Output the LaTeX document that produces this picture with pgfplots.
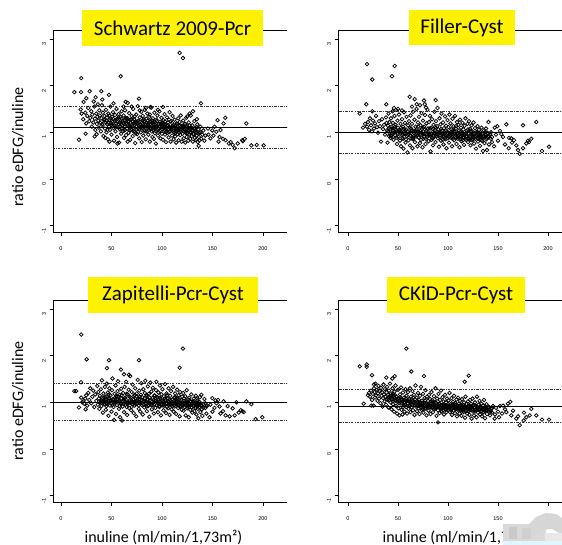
\documentclass[border=0pt]{standalone}
\usepackage{pgfplots}
\pgfplotsset{compat=1.18}
\usepackage{fontspec}
\setmainfont{Carlito}
\newfontfamily\ticfont{Liberation Sans}

% Shared look of the four ratio panels (R base-graphics style)
\pgfplotsset{
  ratiopanel/.style={
    scale only axis, anchor=south west,
    ymin=-1.14, ymax=3.19,
    axis line style={draw=none},
    clip mode=individual,
    xtick={0,50,100,150,200}, ytick={-1,0,1,2,3},
    tick align=outside, tick pos=left,
    major tick length=3.5pt,
    tick style={black, line width=0.6pt},
    /pgf/number format/assume math mode=true,
    xticklabel style={font=\ticfont\fontsize{5.5}{6}\selectfont, yshift=-7pt},
    yticklabel style={font=\ticfont\fontsize{5.5}{6}\selectfont, rotate=90, anchor=south, xshift=-5pt},
  },
  pts/.style={only marks, mark=o, mark size=1.8pt, mark options={line width=0.75pt, black}},
  meanline/.style={black, line width=0.9pt},
  limline/.style={black!80, line width=0.6pt, dash pattern=on 2.5pt off 1.2pt on 0.8pt off 1.2pt},
}
\newcommand{\panelframe}{\draw[black, line width=0.8pt] (rel axis cs:1,1) -- (rel axis cs:0,1) -- (rel axis cs:0,0) -- (rel axis cs:1,0);}

\begin{document}
\begin{tikzpicture}
\useasboundingbox (0,0) rectangle (562pt,545pt);

% ---------------- Schwartz 2009-Pcr ----------------
\begin{axis}[ratiopanel, at={(53pt,312.7pt)}, width=234pt, height=202.3pt, xmin=-7.9, xmax=223.8]
\panelframe
\addplot[meanline] coordinates {(-20,1.10) (240,1.10)};
\addplot[limline] coordinates {(-20,1.56) (240,1.56)};
\addplot[limline] coordinates {(-20,0.65) (240,0.65)};
\addplot[pts] coordinates {
(117.5,2.70)(120.8,2.59)(20.1,2.16)(59.1,2.20)(13.2,1.86)(19.8,1.86)(28.4,1.88)(39.9,1.88)(47.5,1.80)
(22.4,1.65)(25,1.73)(34.3,1.75)(32.4,1.66)(40.9,1.70)(64,1.65)(77.2,1.72)(138.6,1.62)(19.5,1.49)(20.5,1.40)
(101,1.54)(88.5,1.54)(127.4,1.40)(130.7,1.45)(125,1.34)(134.6,1.28)(155,1.26)(162.7,1.31)(161,1.19)(183.5,1.19)
(145.5,1.08)(149.8,1.04)(153.8,1.01)(157,0.90)(160.4,0.86)(166.3,0.76)(172,0.66)(175,0.76)(179.5,0.83)(182,0.86)
(188.5,0.72)(193.8,0.73)(200.7,0.72)(136.3,0.71)(137.3,0.83)(17.8,0.84)(24.4,0.97)(33.3,0.91)(35.3,0.96)
(146,0.95)(148,0.87)(151,0.93)(152,1.12)(156,0.80)(158,1.05)(163,0.83)(168,0.79)(170,0.73)(180,0.81)
(22,1.28)(24,1.42)(25,1.19)(26,1.35)(27,1.52)(28,1.24)(29,1.31)(30,1.45)(30.5,1.12)(31,1.38)(32,1.21)(33,1.55)
(33.5,1.29)(34,1.05)(35,1.40)(35.5,1.18)(36,1.33)(36.5,1.60)(37,1.25)(37.5,1.10)(38,1.47)(38.5,1.36)(39,1.20)
(39.5,1.02)(40,1.30)(40.5,1.58)(41,1.15)(41.5,1.42)(42,0.92)(42.5,1.26)
(43,1.35)(43.5,1.08)(44,1.22)(44.5,1.48)(45,1.00)(45.5,1.31)(46,1.17)(46.5,0.85)(47,1.40)(47.5,1.12)(48,1.27)
(48.5,1.05)(49,1.55)(49.5,1.20)(50,0.95)(50.5,1.33)(51,1.14)(51.5,1.43)(52,1.09)(52.5,0.82)(53,1.25)(53.5,1.37)
(54,1.02)(54.5,1.18)(55,1.50)(55.5,0.90)(56,1.29)(56.5,1.11)(57,1.39)(57.5,0.78)(58,1.21)(58.5,1.06)(59,1.33)
(59.5,0.97)(60,1.45)(60.5,1.16)(44,0.88)(48,0.80)(52,1.62)(56,0.76)
(61,1.24)(61.5,1.03)(62,1.36)(62.5,0.88)(63,1.12)(63.5,1.47)(64,1.19)(64.5,0.94)(65,1.30)(65.5,1.08)(66,1.63)
(66.5,1.22)(67,0.99)(67.5,1.41)(68,1.14)(68.5,0.84)(69,1.27)(69.5,1.05)(70,1.35)(70.5,1.17)(71,0.92)(71.5,1.50)
(72,1.10)(72.5,1.28)(73,1.01)(73.5,0.77)(74,1.21)(74.5,1.38)(75,1.13)(75.5,0.96)(76,1.56)(76.5,1.25)(77,1.07)
(77.5,0.87)(78,1.32)(78.5,1.16)(79,1.00)(79.5,1.44)(80,1.20)(62,1.55)(66,0.80)(70,1.55)(74,0.98)(78,1.47)(80,0.79)
(80.5,1.09)(81,1.35)(81.5,0.93)(82,1.23)(82.5,1.05)(83,1.48)(83.5,1.15)(84,0.85)(84.5,1.29)(85,1.02)(85.5,1.40)
(86,1.18)(86.5,0.95)(87,1.11)(87.5,1.33)(88,0.80)(88.5,1.24)(89,1.07)(89.5,1.53)(90,1.14)(90.5,0.90)(91,1.30)
(91.5,1.04)(92,1.19)(92.5,1.42)(93,0.98)(93.5,1.12)(94,0.76)(94.5,1.27)(95,1.06)(95.5,1.36)(96,0.93)(96.5,1.17)
(97,1.01)(97.5,1.45)(98,1.22)(98.5,0.87)(99,1.10)(99.5,1.31)(100,0.97)(84,1.52)(88,1.38)(92,0.86)(96,1.48)(100,1.20)
(100.5,1.13)(101,0.84)(101.5,1.26)(102,1.03)(102.5,1.39)(103,0.95)(103.5,1.16)(104,0.79)(104.5,1.08)(105,1.32)
(105.5,0.99)(106,1.21)(106.5,0.89)(107,1.12)(107.5,1.43)(108,1.02)(108.5,0.80)(109,1.24)(109.5,1.06)(110,0.93)
(110.5,1.35)(111,1.15)(111.5,0.85)(112,1.00)(112.5,1.27)(113,0.91)(113.5,1.10)(114,0.78)(114.5,1.19)(115,1.04)
(115.5,0.96)(116,1.30)(116.5,0.83)(117,1.09)(117.5,1.22)(118,0.94)(118.5,1.36)(119,1.01)(119.5,0.80)(120,1.14)
(120.5,0.97)(121,1.25)(121.5,0.87)(122,1.06)(122.5,1.18)(123,0.78)(123.5,0.99)(124,1.31)(124.5,0.90)(125,1.12)
(125.5,1.03)(126,0.82)(126.5,1.21)(127,0.95)(127.5,1.08)(128,0.86)(128.5,1.36)(129,1.00)(129.5,0.92)(130,1.15)
(130.5,0.80)(131,1.04)(131.5,0.96)(132,1.24)(132.5,0.88)(133,1.09)(133.5,0.84)(134,1.00)(134.5,0.93)(135,1.17)
(135.5,0.79)(136,1.06)(136.5,0.90)(137,0.99)(138,1.12)(139,0.86)(140,0.95)(141,1.04)(142,0.82)(143,0.93)
(45,1.25)(47,1.20)(49,1.30)(51,1.22)(53,1.15)(55,1.27)(57,1.18)(59,1.24)(61,1.14)(63,1.26)(65,1.18)(67,1.12)
(69,1.20)(71,1.24)(73,1.16)(75,1.22)(77,1.15)(79,1.10)(81,1.18)(83,1.12)(85,1.20)(87,1.05)(89,1.16)(91,1.10)
(93,1.22)(95,1.14)(97,1.08)(99,1.16)(101,1.10)(103,1.05)(105,1.14)(107,1.00)(109,1.10)(111,1.04)(113,1.15)
(115,1.08)(117,0.99)(119,1.12)(121,1.03)(123,1.10)(125,0.98)(127,1.04)(129,1.10)(131,0.97)(133,1.02)(60,1.08)
(64,1.30)(68,1.04)(72,1.19)(76,1.09)(82,1.28)(86,1.10)(90,1.25)(94,1.12)(98,1.03)(102,1.18)(106,1.07)(110,1.12)
(114,1.02)(118,1.06)
(41,1.18)(43,1.27)(46,1.05)(48,1.36)(50,1.16)(52,1.28)(54,1.10)(57,1.32)(58,1.12)(60,1.29)(62,1.20)(63,1.04)
(66,1.30)(67,1.24)(69,1.11)(70,1.28)(72,1.02)(73,1.34)(75,1.06)(76,1.19)(78,1.23)(80,1.12)(81,1.26)(83,1.02)
(84,1.16)(86,1.25)(87,1.19)(88,1.09)(90,1.02)(91,1.21)(92,1.11)(94,1.03)(95,1.24)(97,1.18)(98,1.12)(100,1.07)
(101,1.19)(103,1.23)(104,1.01)(106,1.15)(107,1.27)(108,1.10)(110,1.20)(112,1.09)(113,0.98)(115,1.17)(116,1.05)
(118,1.14)(120,1.05)(121,1.12)(123,1.18)(124,1.02)(126,1.10)(127,1.15)(128,0.99)(130,1.05)(132,1.08)(134,1.11)
(136,0.97)(138,1.00)
};
\end{axis}

% ---------------- Filler-Cyst ----------------
\begin{axis}[ratiopanel, at={(338pt,312.7pt)}, width=224pt, height=202.3pt, xmin=-10, xmax=214]
\panelframe
\addplot[meanline] coordinates {(-20,1.00) (240,1.00)};
\addplot[limline] coordinates {(-20,1.46) (240,1.46)};
\addplot[limline] coordinates {(-20,0.56) (240,0.56)};
\addplot[pts] coordinates {
(19,2.46)(46.7,2.42)(24.3,2.13)(44,2.20)(11.7,1.40)(18.3,1.60)(38.3,1.60)(24.3,1.45)(61.7,1.76)(66.7,1.71)
(76,1.68)(76.7,1.60)(87.7,1.69)(68.7,1.60)
(15,1.10)(17,1.18)(19,1.12)(20,1.22)(21,1.05)(22,1.30)(23,1.15)(24,1.02)(25,1.25)(26,1.08)(27,1.19)(28,1.35)
(29,1.11)(30,0.99)(31,1.24)(32,1.13)(33,0.80)(34,1.28)(35,1.07)(36,1.16)(37,0.95)(38,1.32)(38.5,1.20)(39,1.04)
(39.5,0.78)(40,1.14)(40.5,1.40)(41,0.92)(41.5,1.22)(42,1.06)
(42.5,0.88)(43,1.30)(43.5,1.12)(44,0.98)(44.5,1.45)(45,1.20)(45.5,0.84)(46,1.08)(46.5,1.35)(47,0.94)(47.5,1.16)
(48,1.48)(48.5,1.02)(49,0.75)(49.5,1.25)(50,1.10)(50.5,0.90)(51,1.38)(51.5,1.05)(52,0.82)(52.5,1.18)(53,0.70)
(53.5,1.00)(54,1.28)(54.5,0.88)(55,1.12)(55.5,0.65)(56,1.43)(56.5,0.97)(57,1.20)(57.5,0.78)(58,1.06)(58.5,1.33)
(59,0.92)(59.5,0.57)(60,1.15)(60.5,0.83)(46,1.52)(50,1.50)(54,1.47)
(61,1.24)(61.5,0.99)(62,0.72)(62.5,1.36)(63,1.08)(63.5,0.87)(64,1.18)(64.5,0.66)(65,1.44)(65.5,1.02)(66,0.92)
(66.5,1.27)(67,0.79)(67.5,1.12)(68,0.96)(68.5,1.50)(69,1.04)(69.5,0.70)(70,1.21)(70.5,0.89)(71,1.33)(71.5,1.00)
(72,0.77)(72.5,1.15)(73,0.94)(73.5,1.41)(74,1.07)(74.5,0.68)(75,1.25)(75.5,0.86)(76,1.12)(76.5,0.97)(77,1.37)
(77.5,0.75)(78,1.03)(78.5,1.19)(79,0.90)(79.5,1.48)(80,1.08)(80.5,0.81)(64,1.55)(72,1.58)(78,1.53)
(81,1.22)(81.5,0.95)(82,1.35)(82.5,0.59)(83,1.10)(83.5,0.84)(84,1.28)(84.5,1.01)(85,0.72)(85.5,1.16)(86,0.92)
(86.5,1.44)(87,1.05)(87.5,0.79)(88,1.24)(88.5,0.96)(89,1.13)(89.5,1.52)(90,0.87)(90.5,1.06)(91,0.69)(91.5,1.30)
(92,0.99)(92.5,1.17)(93,0.82)(93.5,1.40)(94,1.03)(94.5,0.91)(95,1.21)(95.5,0.74)(96,1.09)(96.5,0.97)(97,1.34)
(97.5,0.85)(98,1.14)(98.5,0.66)(99,1.02)(99.5,1.26)(100,0.93)
(100.5,1.11)(101,0.78)(101.5,1.38)(102,0.98)(102.5,1.19)(103,0.88)(103.5,1.06)(104,0.70)(104.5,1.29)(105,0.95)
(105.5,1.13)(106,0.83)(106.5,1.02)(107,1.35)(107.5,0.91)(108,1.08)(108.5,0.75)(109,1.22)(109.5,0.97)(110,0.86)
(110.5,1.16)(111,1.04)(111.5,0.68)(112,1.27)(112.5,0.93)(113,1.10)(113.5,0.81)(114,0.99)(114.5,1.20)(115,0.89)
(115.5,1.06)(116,0.73)(116.5,1.14)(117,0.95)(117.5,1.30)(118,0.84)(118.5,1.03)(119,0.91)(119.5,1.18)(120,0.79)
(120.5,0.98)(121,1.24)(121.5,0.87)(122,1.07)(122.5,0.72)(123,0.95)(123.5,1.15)(124,0.83)(124.5,1.02)(125,0.90)
(125.5,1.21)(126,0.76)(126.5,0.98)(127,1.09)(127.5,0.86)(128,0.65)(128.5,1.01)(129,0.93)(129.5,1.13)(130,0.80)
(130.5,0.96)(131,1.05)(131.5,0.88)(132,0.71)(132.5,1.00)(133,0.92)(133.5,1.10)(134,0.82)(134.5,0.97)(135,0.60)
(135.5,0.89)(136,1.04)(136.5,0.77)(137,0.94)(138,1.08)(138.5,0.85)(139,0.62)(139.5,0.99)(140,0.90)(140.5,1.22)
(141,0.74)(142,0.95)(143,0.86)(144,0.79)
(146.7,1.10)(149.3,1.13)(153.3,0.96)(158.3,1.17)(160.7,0.66)(163.3,0.87)(166,0.83)(168.3,0.72)(171.7,0.54)
(175,1.15)(175,0.66)(178.3,0.76)(181,0.79)(183.3,0.86)(188.3,1.22)(194,0.60)(201,0.69)(148,0.95)(150,0.82)
(152,1.03)(155,0.90)(157,0.74)(161,0.88)(164,0.78)(170,0.62)(180,0.82)(146,0.70)
(40,1.02)(42,0.96)(44,1.08)(46,0.99)(48,1.05)(50,0.97)(52,1.03)(54,0.94)(56,1.07)(58,0.99)(60,1.02)(62,0.93)
(64,1.04)(66,0.98)(68,0.91)(70,1.01)(72,0.95)(74,0.99)(76,0.90)(78,0.96)(80,1.00)(82,0.93)(84,0.88)(86,0.99)
(88,0.92)(90,0.96)(92,0.89)(94,0.97)(96,0.91)(98,0.94)(100,0.87)(102,0.95)(104,0.90)(106,0.97)(108,0.88)
(110,0.93)(112,0.86)(114,0.94)(116,0.89)(118,0.92)(120,0.86)(122,0.91)(124,0.94)(126,0.88)(128,0.92)(130,0.87)
(132,0.93)(134,0.88)(136,0.91)(138,0.95)(45,0.90)(55,0.86)(65,0.88)(75,1.10)(85,1.07)(95,0.84)(105,1.04)
(115,0.83)(125,0.85)(135,0.96)
(41,1.09)(43,0.92)(45,1.03)(47,1.12)(49,0.88)(51,1.00)(53,1.10)(55,0.95)(57,1.04)(58,0.85)(60,0.94)(62,1.10)
(63,0.98)(65,0.85)(67,1.03)(69,0.93)(70,1.12)(72,1.04)(73,0.84)(75,0.96)(77,1.06)(78,0.86)(80,0.93)(82,1.08)
(83,0.96)(85,0.87)(87,0.97)(88,1.10)(90,1.00)(92,0.93)(93,1.07)(95,0.98)(97,0.88)(98,1.04)(100,0.98)(101,0.90)
(103,1.01)(105,0.86)(107,0.97)(108,1.13)(110,0.99)(112,0.90)(113,1.02)(115,0.94)(117,0.86)(118,0.98)(120,1.06)
(122,0.84)(123,1.02)(125,0.96)(127,0.91)(129,0.99)(131,0.93)(133,0.84)(135,0.91)(137,1.00)(139,0.88)(141,0.92)
(143,1.00)(144,0.90)
};
\end{axis}

% ---------------- Zapitelli-Pcr-Cyst ----------------
\begin{axis}[ratiopanel, at={(53pt,42.7pt)}, width=234pt, height=202.3pt, xmin=-7.9, xmax=223.8]
\panelframe
\addplot[meanline] coordinates {(-20,1.00) (240,1.00)};
\addplot[limline] coordinates {(-20,1.41) (240,1.41)};
\addplot[limline] coordinates {(-20,0.62) (240,0.62)};
\addplot[pts] coordinates {
(20,2.45)(120.8,2.15)(25.4,1.92)(47.5,1.90)(77.2,1.90)(45.5,1.73)(117.5,1.74)(59.4,1.70)(62.4,1.60)(67.3,1.59)
(13.2,1.24)(19.8,1.43)(17.8,0.89)(24.4,0.85)
(15,1.24)(20,1.10)(21,1.00)(22,1.02)(23,0.97)(24,1.08)(25,1.15)(26,0.93)(27,1.20)(28,1.05)(29,1.30)(30,0.98)
(31,1.12)(32,1.25)(33,0.90)(34,1.17)(35,1.03)(36,1.35)(36.5,0.95)(37,1.22)(37.5,1.08)(38,0.86)(38.5,1.14)
(39,1.00)(39.5,1.28)(40,0.92)(40.5,1.47)(41,1.10)(41.5,0.78)(42,1.19)
(42.5,1.04)(43,0.96)(43.5,1.33)(44,1.12)(44.5,0.84)(45,1.06)(45.5,1.40)(46,0.98)(46.5,1.21)(47,0.71)(47.5,1.09)
(48,1.30)(48.5,0.93)(49,1.15)(49.5,1.02)(50,0.80)(50.5,1.26)(51,1.51)(51.5,1.07)(52,0.90)(52.5,0.62)(53,1.18)
(53.5,0.99)(54,1.36)(54.5,0.75)(55,1.11)(55.5,0.94)(56,1.24)(56.5,1.45)(57,1.03)(57.5,0.86)(58,1.16)(58.5,0.68)
(59,0.97)(59.5,1.29)(60,1.08)(60.5,0.61)
(61,0.91)(61.5,1.20)(62,1.02)(62.5,0.79)(63,1.33)(63.5,1.10)(64,0.95)(64.5,1.44)(65,1.05)(65.5,0.73)(66,1.17)
(66.5,0.99)(67,1.27)(67.5,0.88)(68,1.12)(68.5,1.56)(69,1.01)(69.5,0.83)(70,1.22)(70.5,0.96)(71,1.38)(71.5,1.07)
(72,0.77)(72.5,1.14)(73,0.93)(73.5,1.30)(74,1.03)(74.5,0.70)(75,1.19)(75.5,0.97)(76,1.48)(76.5,1.09)(77,0.86)
(77.5,1.25)(78,1.00)(78.5,0.80)(79,1.16)(79.5,1.41)(80,0.94)
(80.5,1.11)(81,0.74)(81.5,1.28)(82,1.02)(82.5,0.89)(83,1.20)(83.5,1.46)(84,0.97)(84.5,1.13)(85,0.81)(85.5,1.06)
(86,1.34)(86.5,0.92)(87,1.18)(87.5,0.69)(88,1.04)(88.5,1.42)(89,0.95)(89.5,1.23)(90,0.85)(90.5,1.09)(91,1.31)
(91.5,0.99)(92,0.76)(92.5,1.15)(93,1.03)(93.5,0.88)(94,1.26)(94.5,1.44)(95,0.94)(95.5,1.10)(96,0.79)(96.5,1.21)
(97,1.00)(97.5,0.90)(98,1.36)(98.5,1.07)(99,0.72)(99.5,1.17)(100,0.96)
(100.5,1.28)(101,1.02)(101.5,0.83)(102,1.13)(102.5,0.93)(103,1.39)(103.5,1.05)(104,0.77)(104.5,1.19)(105,0.98)
(105.5,1.08)(106,0.87)(106.5,1.30)(107,1.01)(107.5,0.73)(108,1.14)(108.5,0.94)(109,1.24)(109.5,0.85)(110,1.06)
(110.5,0.97)(111,1.33)(111.5,0.80)(112,1.10)(112.5,0.91)(113,1.19)(113.5,1.03)(114,0.75)(114.5,0.96)(115,1.27)
(115.5,1.07)(116,0.88)(116.5,1.15)(117,0.99)(117.5,0.70)(118,1.22)(118.5,0.93)(119,1.05)(119.5,0.84)(120,1.12)
(120.5,0.95)(121,1.20)(121.5,0.82)(122,1.03)(122.5,0.90)(123,1.13)(123.5,0.72)(124,0.99)(124.5,1.26)(125,0.87)
(125.5,1.06)(126,0.93)(126.5,0.68)(127,1.10)(127.5,0.96)(128,0.84)(128.5,1.02)(129,1.17)(129.5,0.89)(130,0.78)
(130.5,1.00)(131,0.92)(131.5,1.08)(132,0.81)(132.5,0.97)(133,0.88)(133.5,1.14)(134,0.74)(134.5,0.95)(135,1.04)
(135.5,0.86)(136,0.66)(136.5,0.98)(137,0.90)(137.5,1.11)(138,0.79)(138.5,0.94)(139,1.16)(139.5,0.85)(140,0.71)
(141,0.97)(142,1.07)(143,0.88)(144,0.76)(145,0.93)
(183.5,1.02)(188.5,0.96)(173.7,1.00)(178,0.83)(179.8,0.81)(192.7,0.64)(199.3,0.68)(172,0.72)(167,0.70)(163,0.72)
(160.4,0.81)(155.5,1.05)(149.8,1.09)(148,0.95)(150,0.80)(152,0.88)(154,0.98)(157,0.91)(158,0.76)(161,1.02)
(165,0.92)(170,0.87)(176,0.78)(181,0.79)(147,0.68)(153,1.04)
(40,1.04)(42,0.99)(44,1.06)(46,1.01)(48,1.08)(50,0.98)(52,1.05)(54,1.00)(56,1.07)(58,1.02)(60,0.97)(62,1.06)
(64,1.01)(66,0.96)(68,1.04)(70,0.99)(72,1.05)(74,0.96)(76,1.02)(78,1.07)(80,0.98)(82,1.04)(84,0.99)(86,1.05)
(88,0.97)(90,1.01)(92,0.95)(94,1.03)(96,0.98)(98,1.02)(100,0.95)(102,1.00)(104,0.97)(106,1.03)(108,0.96)
(110,1.00)(112,0.94)(114,1.01)(116,0.95)(118,0.99)(120,0.93)(122,0.98)(124,0.94)(126,1.00)(128,0.93)(130,0.97)
(132,0.92)(134,0.99)(136,0.93)(138,0.97)(45,0.92)(55,1.14)(65,0.90)(75,1.12)(85,0.91)(95,1.12)(105,0.90)
(115,1.10)(125,0.91)(135,1.08)
(41,1.02)(43,1.10)(45,0.97)(47,1.16)(49,1.05)(51,0.94)(53,1.09)(55,1.01)(57,1.12)(58,0.92)(60,1.15)(62,0.97)
(63,1.08)(65,1.18)(67,1.00)(69,1.10)(70,0.90)(72,1.00)(73,1.16)(75,1.03)(77,0.93)(78,1.12)(80,1.05)(82,0.95)
(83,1.09)(85,1.16)(87,0.99)(88,1.10)(90,0.94)(92,1.06)(93,1.14)(95,1.01)(97,0.92)(98,1.10)(100,1.04)(101,0.93)
(103,1.08)(105,1.15)(107,0.95)(108,1.05)(110,0.92)(112,1.03)(113,1.11)(115,0.98)(117,1.06)(118,0.90)(120,1.00)
(122,1.08)(123,0.94)(125,0.99)(127,1.05)(129,0.95)(131,1.02)(133,0.96)(135,0.91)(137,1.01)(139,0.93)(141,0.88)
(143,0.98)(144,0.92)
};
\end{axis}

% ---------------- CKiD-Pcr-Cyst ----------------
\begin{axis}[ratiopanel, at={(338pt,42.7pt)}, width=224pt, height=202.3pt, xmin=-10, xmax=214]
\panelframe
\addplot[meanline] coordinates {(-20,0.92) (240,0.92)};
\addplot[limline] coordinates {(-20,1.28) (240,1.28)};
\addplot[limline] coordinates {(-20,0.58) (240,0.58)};
\addplot[pts] coordinates {
(58.3,2.15)(11.7,1.77)(18.7,1.81)(18.7,1.76)(63.3,1.66)(76,1.56)(24,1.58)(38.3,1.53)(44.3,1.51)(46.7,1.56)
(120.7,1.57)(116.7,1.44)(26,1.38)(15.7,0.97)(23.3,0.93)(90,0.57)
(20,1.15)(21,1.20)(22,1.12)(23,1.25)(24,1.05)(25,1.18)(25.5,0.93)(26,1.30)(26.5,1.22)(27,1.10)(27.5,1.40)
(28,1.15)(29,1.27)(29.5,1.03)(30,1.19)(30.5,1.35)(31,1.08)(32,1.24)(32.5,0.98)(33,1.31)(33.5,1.14)(34,1.22)
(34.5,0.91)(35,1.09)(35.5,1.38)(36,1.17)(36.5,1.02)(37,1.28)(37.5,1.12)(38,0.95)(38.5,1.21)(39,1.33)(39.5,1.06)
(40,1.16)(40.5,0.89)(41,1.25)(41.5,1.11)(42,1.40)
(42.5,1.00)(43,1.19)(43.5,0.85)(44,1.08)(44.5,1.30)(45,0.96)(45.5,1.14)(46,0.80)(46.5,1.23)(47,1.04)(47.5,1.36)
(48,0.92)(48.5,1.12)(49,0.76)(49.5,1.01)(50,1.27)(50.5,0.87)(51,1.09)(51.5,0.72)(52,1.17)(52.5,0.98)(53,1.32)
(53.5,0.84)(54,1.05)(54.5,0.74)(55,1.21)(55.5,0.94)(56,1.10)(56.5,0.80)(57,1.00)(57.5,1.28)(58,0.90)(58.5,1.14)
(59,0.76)(59.5,1.03)(60,1.22)(60.5,0.86)
(61,1.07)(61.5,0.95)(62,1.30)(62.5,0.79)(63,1.12)(63.5,0.89)(64,1.02)(64.5,1.24)(65,0.83)(65.5,0.98)(66,1.16)
(66.5,0.73)(67,1.06)(67.5,1.36)(68,0.91)(68.5,1.10)(69,0.81)(69.5,1.00)(70,1.20)(70.5,0.87)(71,1.05)(71.5,0.75)
(72,1.14)(72.5,0.95)(73,1.33)(73.5,0.84)(74,1.03)(74.5,0.92)(75,1.18)(75.5,0.78)(76,0.99)(76.5,1.09)(77,0.86)
(77.5,1.26)(78,0.96)(78.5,0.72)(79,1.12)(79.5,0.90)(80,1.03)
(80.5,0.82)(81,1.16)(81.5,0.94)(82,1.07)(82.5,0.75)(83,0.98)(83.5,1.22)(84,0.88)(84.5,1.04)(85,0.79)(85.5,0.96)
(86,1.13)(86.5,0.85)(87,1.01)(87.5,1.30)(88,0.91)(88.5,0.71)(89,1.08)(89.5,0.93)(90,0.83)(90.5,1.18)(91,0.97)
(91.5,0.77)(92,1.05)(92.5,0.89)(93,1.25)(93.5,0.94)(94,0.80)(94.5,1.11)(95,0.90)(95.5,1.02)(96,0.74)(96.5,0.95)
(97,1.16)(97.5,0.86)(98,1.00)(98.5,0.79)(99,1.08)(99.5,0.92)(100,0.84)
(100.5,1.04)(101,0.88)(101.5,1.20)(102,0.79)(102.5,0.96)(103,0.86)(103.5,1.09)(104,0.73)(104.5,0.93)(105,1.01)
(105.5,0.82)(106,1.14)(106.5,0.90)(107,0.77)(107.5,0.98)(108,0.85)(108.5,1.06)(109,0.70)(109.5,0.92)(110,1.10)
(110.5,0.83)(111,0.97)(111.5,0.76)(112,1.03)(112.5,0.88)(113,0.95)(113.5,0.71)(114,1.07)(114.5,0.86)(115,0.94)
(115.5,0.79)(116,1.00)(116.5,0.90)(117,0.67)(117.5,1.12)(118,0.84)(118.5,0.96)(119,0.76)(119.5,0.91)(120,1.02)
(120.5,0.81)(121,0.93)(121.5,0.73)(122,1.05)(122.5,0.87)(123,0.97)(123.5,0.65)(124,0.90)(124.5,1.08)(125,0.80)
(125.5,0.94)(126,0.72)(126.5,0.88)(127,1.00)(127.5,0.83)(128,0.92)(128.5,0.68)(129,1.12)(129.5,0.86)(130,0.78)
(130.5,0.95)(131,0.84)(131.5,1.03)(132,0.74)(132.5,0.90)(133,0.81)(133.5,0.97)(134,0.70)(134.5,0.87)(135,0.93)
(135.5,0.79)(136,1.05)(136.5,0.85)(137,0.66)(137.5,0.91)(138,0.82)(138.5,0.96)(139,0.75)(140,0.88)(141,0.80)
(142,0.72)(143,0.86)(144,0.78)
(183.3,0.86)(162.3,1.01)(160,0.97)(155,0.93)(188.3,0.72)(194,0.63)(201,0.63)(171.7,0.51)(175.7,0.61)(178.3,0.68)
(181.7,0.72)(168.3,0.65)(163.3,0.72)(158.3,0.79)(146.7,0.65)(148,0.88)(150,0.80)(152,0.92)(154,0.76)(157,0.85)
(165,0.82)(170,0.70)(176,0.78)(147,0.74)(151,0.68)(145,0.92)
(40,1.10)(42,1.14)(44,1.06)(46,1.11)(48,1.03)(50,1.08)(52,1.02)(54,1.07)(56,0.99)(58,1.04)(60,0.97)(62,1.02)
(64,0.95)(66,1.00)(68,0.96)(70,1.01)(72,0.93)(74,0.98)(76,0.92)(78,0.97)(80,0.91)(82,0.96)(84,0.90)(86,0.94)
(88,0.88)(90,0.95)(92,0.89)(94,0.93)(96,0.87)(98,0.92)(100,0.89)(102,0.93)(104,0.86)(106,0.91)(108,0.87)
(110,0.92)(112,0.85)(114,0.90)(116,0.86)(118,0.89)(120,0.85)(122,0.90)(124,0.84)(126,0.89)(128,0.85)(130,0.88)
(132,0.84)(134,0.87)(136,0.83)(138,0.86)(45,1.18)(55,0.90)(65,1.10)(75,0.85)(85,1.00)(95,0.83)(105,0.96)
(115,0.82)(125,0.93)(135,0.78)
(41,1.05)(43,1.13)(45,1.02)(47,1.15)(49,1.06)(51,0.98)(53,1.10)(55,1.03)(57,0.94)(58,1.08)(60,1.04)(62,0.92)
(63,1.00)(65,1.04)(67,0.94)(69,1.03)(70,0.92)(72,1.00)(73,0.90)(75,0.97)(77,1.04)(78,0.88)(80,0.96)(82,0.89)
(83,1.02)(85,0.93)(87,0.87)(88,0.99)(90,0.90)(92,0.96)(93,0.86)(95,0.95)(97,0.90)(98,0.84)(100,0.96)(101,0.91)
(103,0.83)(105,0.92)(107,0.88)(108,0.95)(110,0.86)(112,0.93)(113,0.83)(115,0.88)(117,0.92)(118,0.81)(120,0.88)
(122,0.83)(123,0.92)(125,0.86)(127,0.80)(129,0.91)(131,0.86)(133,0.90)(135,0.84)(137,0.87)(139,0.82)(141,0.90)
(143,0.81)(144,0.87)
};
\end{axis}

% Panel titles
\node[fill=yellow, inner sep=0pt, minimum width=181pt, minimum height=36pt, font=\fontsize{21}{24}\selectfont] at (172.5pt,517pt) {Schwartz 2009-Pcr};
\node[fill=yellow, inner sep=0pt, minimum width=106pt, minimum height=35pt, font=\fontsize{21}{24}\selectfont] at (462pt,517.5pt) {Filler-Cyst};
\node[fill=yellow, inner sep=0pt, minimum width=170pt, minimum height=36pt, font=\fontsize{21}{24}\selectfont] at (173pt,250pt) {Zapitelli-Pcr-Cyst};
\node[fill=yellow, inner sep=0pt, minimum width=138pt, minimum height=36pt, font=\fontsize{21}{24}\selectfont] at (456pt,250pt) {CKiD-Pcr-Cyst};

% Axis titles
\node[rotate=90, font=\fontsize{16}{19}\selectfont] at (18pt,398pt) {ratio eDFG/inuline};
\node[rotate=90, font=\fontsize{16}{19}\selectfont] at (18pt,144pt) {ratio eDFG/inuline};
\node[font=\fontsize{16}{19}\selectfont] at (163.5pt,8pt) {inuline (ml/min/1,73m²)};
\node[font=\fontsize{16}{19}\selectfont] at (461.5pt,8pt) {inuline (ml/min/1,73m²)};

% Blurred grey patch in the lower right corner
\fill[gray!30] (503pt,4pt) rectangle (546pt,21pt);
\fill[gray!42] (509pt,6pt) rectangle (517pt,18pt);
\fill[gray!38] (522pt,6pt) rectangle (531pt,17pt);
\fill[gray!32] (528pt,20pt) -- (536pt,28pt) -- (546pt,32pt) -- (556pt,31pt) -- (562pt,27pt) -- (562pt,10pt) -- (552pt,16pt) -- (542pt,15pt) -- (534pt,9pt) -- cycle;
\fill[gray!18] (545pt,4pt) rectangle (562pt,12pt);
\fill[cyan!12] (503pt,0pt) rectangle (562pt,4pt);
\end{tikzpicture}
\end{document}
